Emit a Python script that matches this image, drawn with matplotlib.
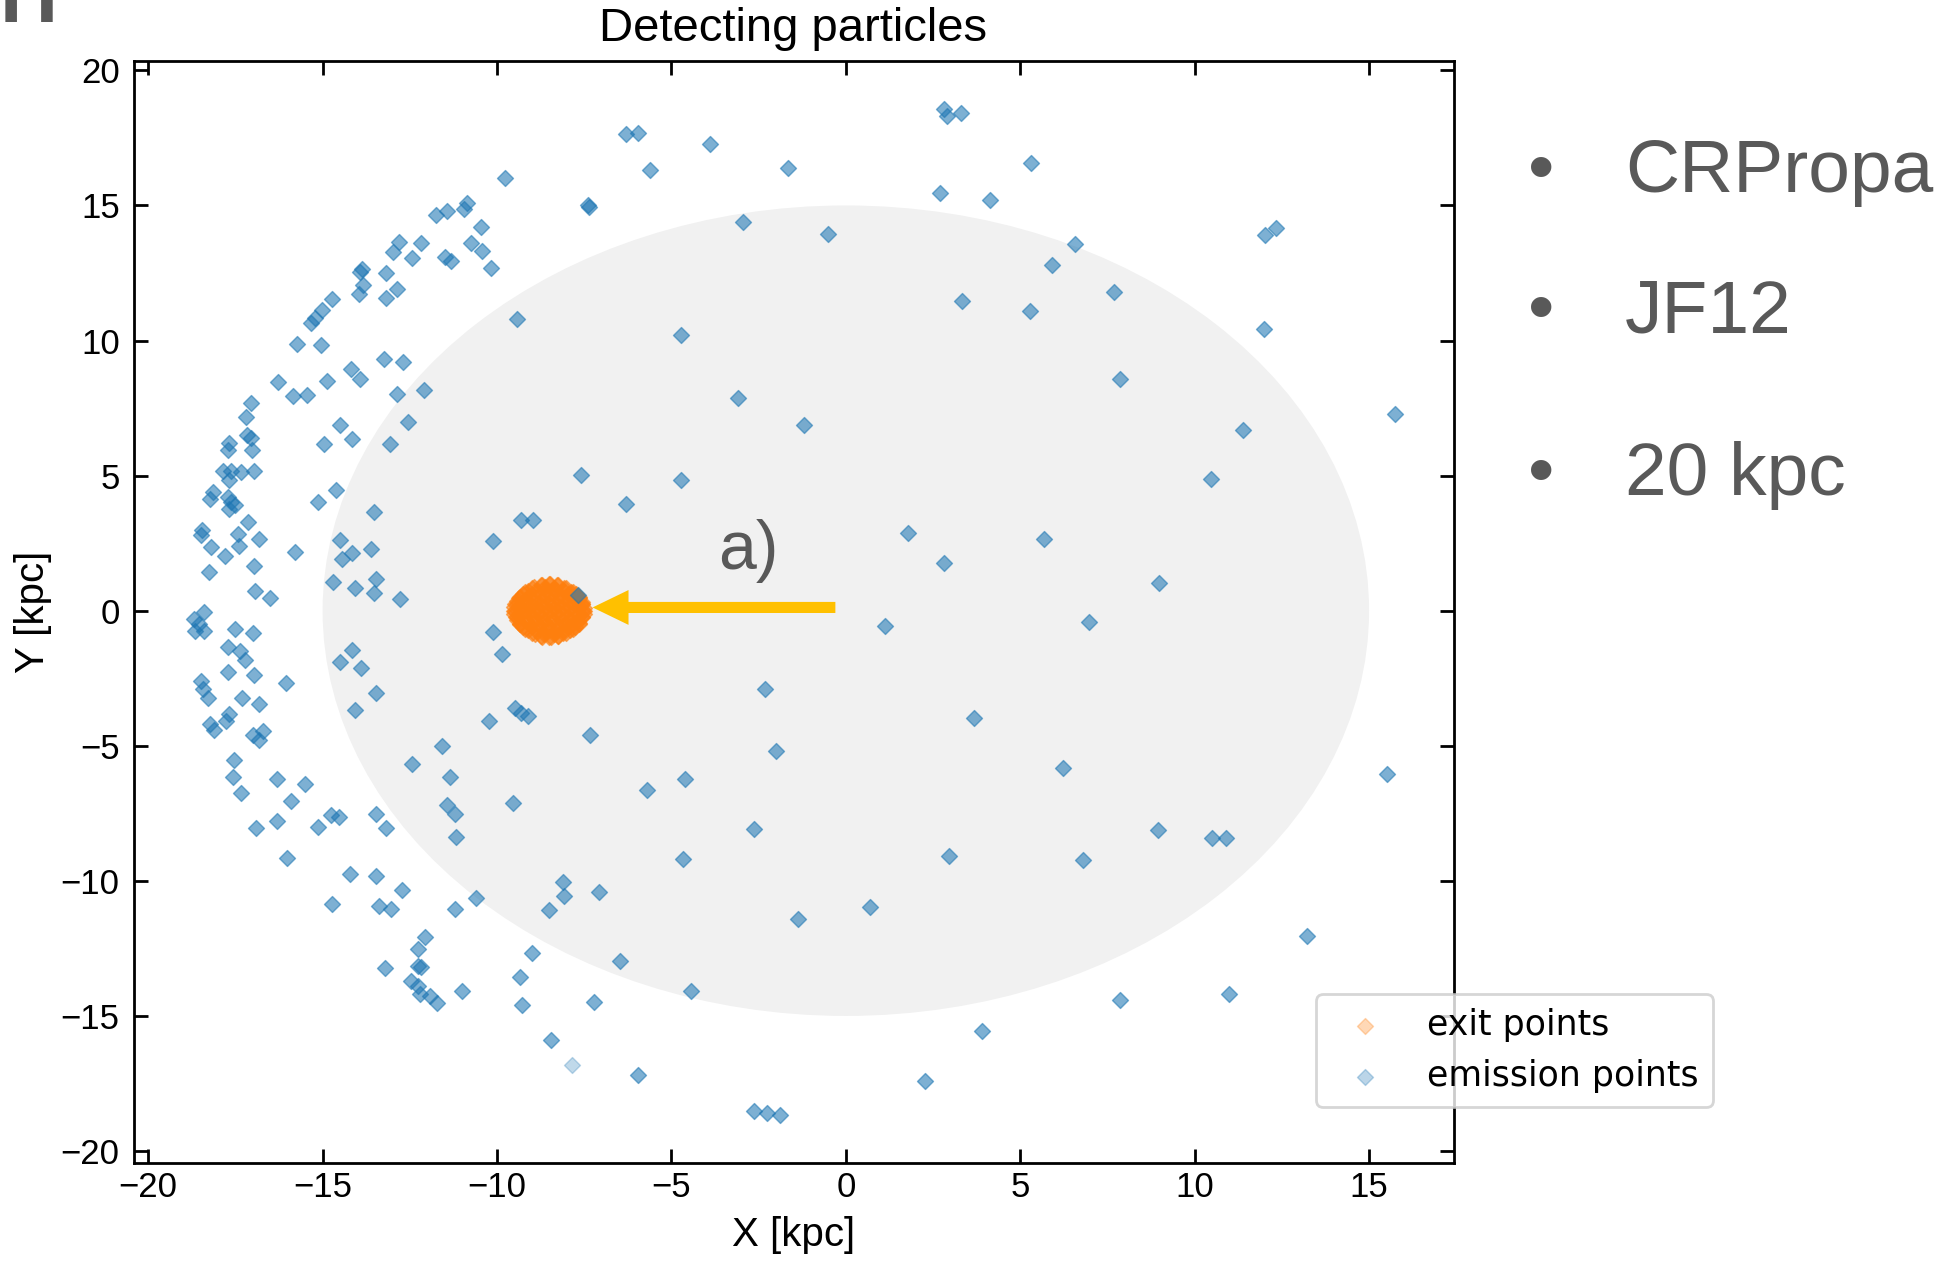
import numpy as np
import matplotlib.pyplot as plt
from matplotlib.patches import Circle, FancyArrow

plt.rcParams['font.family'] = ['Liberation Sans', 'DejaVu Sans']

# emission points of the detected particles, X/Y in kpc
emission = np.array([
    (-9.76, 16.03), (-7.40, 15.00), (-7.35, 14.95), (-10.85, 15.08), (-10.95, 14.87),
    (-11.43, 14.80), (-11.74, 14.63), (-10.45, 14.22), (-10.74, 13.62), (-10.43, 13.33),
    (-10.16, 12.69), (-12.17, 13.60), (-12.43, 13.06), (-12.82, 13.66), (-12.98, 13.26),
    (-11.50, 13.10), (-11.31, 12.93), (-13.86, 12.64), (-13.94, 12.52), (-13.19, 12.51),
    (-13.84, 12.06), (-13.97, 11.74), (-12.86, 11.90), (-13.17, 11.58), (-14.72, 11.52),
    (-15.03, 11.13), (-15.23, 10.85), (-15.32, 10.66), (-9.44, 10.81), (-15.72, 9.86),
    (-15.06, 9.83), (-13.24, 9.30), (-12.70, 9.19), (-14.18, 8.93), (-13.94, 8.58),
    (-14.87, 8.50), (-16.27, 8.45), (-15.85, 7.96), (-15.44, 8.00), (-12.86, 8.02),
    (-12.10, 8.18), (-17.04, 7.69), (-17.19, 7.17), (-14.51, 6.86), (-12.55, 6.97),
    (-17.18, 6.50), (-17.06, 6.38), (-17.67, 6.20), (-17.71, 5.95), (-17.03, 5.95),
    (-14.96, 6.17), (-14.16, 6.36), (-13.07, 6.17), (-17.86, 5.18), (-17.62, 5.18),
    (-17.33, 5.12), (-16.97, 5.18), (-17.67, 4.83), (-18.15, 4.40), (-18.24, 4.15),
    (-17.71, 4.21), (-17.62, 4.03), (-17.67, 3.78), (-17.52, 3.90), (-14.62, 4.46),
    (-15.13, 4.03), (-13.52, 3.65), (-17.13, 3.28), (-18.45, 2.97), (-18.50, 2.79),
    (-17.43, 2.85), (-16.81, 2.66), (-18.19, 2.35), (-17.40, 2.38), (-17.81, 2.04),
    (-15.78, 2.19), (-16.97, 1.67), (-18.25, 1.45), (-14.51, 2.60), (-14.17, 2.13),
    (-14.45, 1.92), (-13.62, 2.29), (-7.58, 5.02), (-9.32, 3.34), (-8.98, 3.37),
    (-10.11, 2.58), (-14.70, 1.08), (-14.08, 0.84), (-13.46, 1.18), (-13.54, 0.66),
    (-12.79, 0.43), (-16.94, 0.73), (-16.50, 0.47), (-18.40, -0.04), (-18.69, -0.29),
    (-18.53, -0.50), (-18.67, -0.75), (-18.41, -0.75), (-17.50, -0.68), (-16.99, -0.82),
    (-7.67, 0.59), (-10.11, -0.79), (-9.85, -1.59), (-17.71, -1.34), (-17.36, -1.51),
    (-17.22, -1.84), (-17.71, -2.26), (-16.98, -2.38), (-14.15, -1.45), (-14.51, -1.90),
    (-13.89, -2.13), (-16.06, -2.67), (-18.48, -2.60), (-18.43, -2.91), (-18.29, -3.22),
    (-17.30, -3.25), (-16.83, -3.45), (-13.46, -3.04), (-14.06, -3.69), (-17.67, -3.84),
    (-17.76, -4.09), (-18.22, -4.18), (-18.10, -4.40), (-17.00, -4.59), (-16.71, -4.46),
    (-16.81, -4.77), (-9.49, -3.60), (-9.30, -3.78), (-9.11, -3.90), (-10.24, -4.09),
    (-7.32, -4.59), (-11.58, -5.02), (-12.45, -5.66), (-11.36, -6.14), (-17.55, -5.54),
    (-17.57, -6.14), (-17.33, -6.73), (-16.30, -6.23), (-15.50, -6.41), (-15.90, -7.04),
    (-11.42, -7.19), (-9.54, -7.10), (-16.90, -8.03), (-16.31, -7.80), (-15.13, -7.99),
    (-14.77, -7.58), (-14.54, -7.62), (-13.48, -7.52), (-13.17, -8.03), (-11.21, -7.53),
    (-11.18, -8.39), (-16.02, -9.14), (-14.22, -9.75), (-13.46, -9.81), (-12.71, -10.32),
    (-14.72, -10.86), (-13.38, -10.94), (-13.03, -11.03), (-11.19, -11.05), (-10.61, -10.62),
    (-8.11, -10.06), (-8.08, -10.57), (-8.52, -11.09), (-7.07, -10.43), (-12.05, -12.08),
    (-12.26, -12.51), (-13.20, -13.22), (-12.26, -13.16), (-12.17, -13.19), (-12.47, -13.69),
    (-12.26, -13.88), (-12.22, -14.19), (-11.93, -14.25), (-11.71, -14.53), (-10.99, -14.09),
    (-8.99, -12.66), (-9.35, -13.57), (-9.27, -14.59), (-7.22, -14.50), (-8.46, -15.89),
    (-6.29, 17.65), (-5.97, 17.67), (-3.88, 17.29), (-5.61, 16.30), (-1.66, 16.37),
    (2.81, 18.56), (2.90, 18.30), (3.31, 18.43), (5.31, 16.56), (2.69, 15.47),
    (4.13, 15.21), (-2.96, 14.37), (-0.52, 13.93), (3.33, 11.48), (5.27, 11.11),
    (-4.73, 10.21), (-3.09, 7.89), (-1.20, 6.89), (-4.72, 4.84), (-6.30, 3.95),
    (1.78, 2.88), (2.81, 1.77), (5.68, 2.67),
    (1.12, -0.57), (-2.33, -2.88), (3.67, -3.99), (-2.00, -5.21), (-4.62, -6.23),
    (-5.70, -6.65), (-2.62, -8.08), (-4.67, -9.18), (2.95, -9.08), (0.68, -10.95),
    (-1.38, -11.42), (-6.47, -12.98), (-4.44, -14.07), (3.91, -15.57), (-5.97, -17.18),
    (2.28, -17.40), (-2.64, -18.52), (-2.26, -18.60), (-1.88, -18.68),
    (6.58, 13.59), (5.91, 12.80), (7.68, 11.80), (7.87, 8.58), (12.03, 13.90),
    (12.32, 14.16), (11.99, 10.44), (15.73, 7.27), (11.38, 6.67), (10.46, 4.86),
    (8.97, 1.01), (6.96, -0.43), (6.23, -5.83), (15.52, -6.06), (8.95, -8.11),
    (10.50, -8.42), (10.91, -8.42), (6.80, -9.23), (13.21, -12.04), (10.98, -14.19),
    (7.87, -14.40),
])
# emission point that was hit only once
emission_single = np.array([(-7.84, -16.81)])

# exit points on the observer sphere around the Sun
exit_pts = np.array([
    (-8.72, 0.96), (-8.48, 0.98), (-8.27, 0.95),
    (-8.95, 0.86), (-8.62, 0.88), (-8.38, 0.85), (-8.08, 0.84),
    (-9.12, 0.74), (-8.86, 0.72), (-8.60, 0.76), (-8.33, 0.73), (-8.10, 0.75), (-7.88, 0.71),
    (-9.25, 0.61), (-9.00, 0.63), (-8.73, 0.60), (-8.47, 0.62), (-8.20, 0.59), (-7.96, 0.62),
    (-7.74, 0.60),
    (-9.36, 0.48), (-9.12, 0.50), (-8.86, 0.47), (-8.60, 0.51), (-8.34, 0.49), (-8.08, 0.47),
    (-7.83, 0.50), (-7.64, 0.47),
    (-9.42, 0.36), (-9.20, 0.38), (-8.95, 0.35), (-8.70, 0.38), (-8.45, 0.36), (-8.20, 0.39),
    (-7.95, 0.36), (-7.70, 0.37), (-7.56, 0.34),
    (-9.47, 0.23), (-9.25, 0.25), (-9.02, 0.22), (-8.78, 0.26), (-8.52, 0.24), (-8.27, 0.22),
    (-8.02, 0.25), (-7.78, 0.23), (-7.55, 0.24),
    (-9.50, 0.12), (-9.30, 0.10), (-9.08, 0.13), (-8.85, 0.11), (-8.62, 0.13), (-8.38, 0.10),
    (-8.14, 0.12), (-7.90, 0.11), (-7.66, 0.13), (-7.50, 0.10),
    (-9.52, 0.00), (-9.26, -0.02), (-9.00, 0.01), (-8.76, -0.01), (-8.50, 0.02), (-8.25, -0.01),
    (-8.00, 0.01), (-7.75, -0.02), (-7.50, 0.00),
    (-9.50, -0.12), (-9.28, -0.10), (-9.05, -0.13), (-8.82, -0.11), (-8.58, -0.13),
    (-8.34, -0.10), (-8.10, -0.12), (-7.86, -0.11), (-7.64, -0.13), (-7.50, -0.11),
    (-9.46, -0.24), (-9.20, -0.22), (-8.96, -0.25), (-8.72, -0.23), (-8.47, -0.26),
    (-8.22, -0.23), (-7.97, -0.25), (-7.73, -0.22), (-7.55, -0.24),
    (-9.43, -0.36), (-9.17, -0.38), (-8.92, -0.35), (-8.66, -0.38), (-8.40, -0.36),
    (-8.15, -0.39), (-7.90, -0.36), (-7.67, -0.37),
    (-9.35, -0.49), (-9.10, -0.47), (-8.84, -0.50), (-8.58, -0.48), (-8.32, -0.51),
    (-8.06, -0.48), (-7.82, -0.50), (-7.64, -0.47),
    (-9.26, -0.61), (-9.00, -0.62), (-8.74, -0.60), (-8.48, -0.63), (-8.22, -0.60),
    (-7.97, -0.62), (-7.76, -0.59),
    (-9.10, -0.73), (-8.85, -0.75), (-8.60, -0.72), (-8.34, -0.76), (-8.10, -0.74), (-7.90, -0.71),
    (-8.92, -0.86), (-8.64, -0.88), (-8.38, -0.85), (-8.10, -0.84),
    (-8.70, -0.96), (-8.46, -0.98), (-8.25, -0.95),
    # rim of the sphere
    (-7.53, 0.00), (-7.56, 0.25), (-7.66, 0.49), (-7.81, 0.69), (-8.01, 0.84), (-8.25, 0.94),
    (-8.50, 0.97), (-8.75, 0.94), (-8.99, 0.84), (-9.19, 0.69), (-9.34, 0.49), (-9.44, 0.25),
    (-9.47, 0.00), (-9.44, -0.25), (-9.34, -0.49), (-9.19, -0.69), (-8.99, -0.84),
    (-8.75, -0.94), (-8.50, -0.97), (-8.25, -0.94), (-8.01, -0.84), (-7.81, -0.69),
    (-7.66, -0.49), (-7.56, -0.25),
])

galaxy_radius = 15.0  # kpc
arrow_start, arrow_end = (-0.30, 0.12), (-7.26, 0.12)
setup_items = ['CRPropa', 'JF12', '20 kpc']

fig = plt.figure(figsize=(19.38, 12.61), dpi=100)
ax = fig.add_axes([0.0689, 0.0780, 0.6811, 0.8737])

ax.add_patch(Circle((0, 0), galaxy_radius, color='#f1f1f1', lw=0, zorder=0))

msize = 66
ax.scatter(exit_pts[:, 0], exit_pts[:, 1], marker='D', s=msize, color='tab:orange',
           alpha=0.6, label='exit points', zorder=2)
ax.scatter(emission[:, 0], emission[:, 1], marker='D', s=msize, color='tab:blue',
           alpha=0.58, label='emission points', zorder=3)
ax.scatter(emission_single[:, 0], emission_single[:, 1], marker='D', s=msize,
           color='tab:blue', alpha=0.28, zorder=3)

ax.set_xlim(-20.42, 17.42)
ax.set_ylim(-20.43, 20.35)
ax.set_xticks(np.arange(-20, 16, 5))
ax.set_yticks(np.arange(-20, 21, 5))
ax.tick_params(direction='in', top=True, right=True, length=10, width=2, labelsize=25)
ax.tick_params(axis='x', pad=6)
ax.tick_params(axis='y', pad=10)
for sp in ax.spines.values():
    sp.set_linewidth(2)

ax.set_title('Detecting particles', fontsize=34, pad=14)
ax.set_xlabel('X [kpc]', fontsize=29)
ax.set_ylabel('Y [kpc]', fontsize=29)
ax.xaxis.set_label_coords(0.5, -0.048)
ax.yaxis.set_label_coords(-0.062, 0.5)

leg = ax.legend(loc='lower right', bbox_to_anchor=(0.8839, 0.1221),
                bbox_transform=fig.transFigure, borderaxespad=0,
                prop={'family': 'DejaVu Sans', 'size': 25})
leg.get_frame().set_linewidth(2)
for h in leg.legend_handles:
    h.set_alpha(0.3)

# arrow pointing at the observer
ax.add_patch(FancyArrow(arrow_start[0], arrow_start[1],
                        arrow_end[0] - arrow_start[0], arrow_end[1] - arrow_start[1],
                        width=0.41, head_width=1.29, head_length=1.03,
                        length_includes_head=True, color='#ffc000', lw=0, zorder=5))
ax.text(-2.78, 1.535, 'a)', fontsize=49, color='#595959', ha='center', va='baseline',
        zorder=6)

# simulation setup list on the right
for item, yb in zip(setup_items, [0.8477, 0.7367, 0.6075]):
    fig.text(0.8385, yb, item, fontsize=54, color='#595959', va='baseline')
    fig.text(0.7951, yb, '\u2022', fontsize=54, color='#595959', ha='center', va='baseline')

fig.text(0.0, 0.9828, 'H', fontsize=58, fontweight='bold', color='#595959', va='baseline')

fig.savefig('out.png', dpi=100, facecolor='white')
